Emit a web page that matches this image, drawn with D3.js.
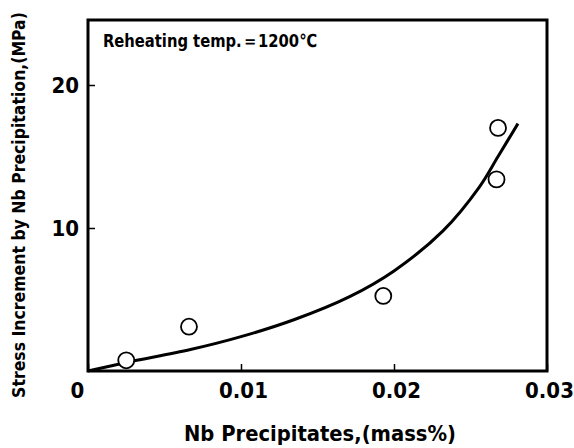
<!DOCTYPE html>
<style>
    body { margin: 0; background: #fff; }
    svg text { font-family: 'Liberation Sans Narrow', 'DejaVu Sans Condensed', 'Liberation Sans', sans-serif; font-weight: bold; fill: #000; }
    .axis .domain { display: none; }
</style>
<svg width="574" height="448"></svg>
<script src="https://d3js.org/d3.v7.min.js"></script>
<script>
    // measured points (open circles)
    var pointX = [0.0025, 0.0066, 0.0193, 0.0268, 0.0267];
    var pointY = [0.75, 3.1, 5.25, 17.0, 13.4];

    // fitted curve
    var curveX = [0, 0.0025, 0.0067, 0.010, 0.0135, 0.0171, 0.020, 0.0232, 0.0256, 0.0268, 0.0281];
    var curveY = [0, 0.6, 1.5, 2.4, 3.6, 5.2, 7.0, 9.8, 12.9, 15.0, 17.3];

    var xTicks = [0, 0.01, 0.02, 0.03];
    var xTickLabels = ["0", "0.01", "0.02", "0.03"];
    var yTicks = [10, 20];

    var svg = d3.select("svg");

    var x = d3.scaleLinear().domain([0, 0.03]).range([88, 547]);
    var y = d3.scaleLinear().domain([0, 20]).range([371, 85]);
    var frameTop = 20;

    // x axis (ticks point inward)
    var gx = svg.append("g")
        .attr("class", "axis")
        .attr("transform", "translate(0," + y(0) + ")")
        .call(d3.axisBottom(x)
            .tickValues(xTicks)
            .tickSize(-7)
            .tickPadding(11)
            .tickFormat(function(d, i) { return xTickLabels[i]; }));
    gx.selectAll(".tick line").attr("stroke", "#000").attr("stroke-width", 1.5);
    gx.selectAll(".tick text")
        .style("font-size", "22px")
        .attr("dx", function(d, i) { return i == 0 ? -11 : 2; });

    // y axis
    var gy = svg.append("g")
        .attr("class", "axis")
        .attr("transform", "translate(" + x(0) + ",0)")
        .call(d3.axisLeft(y)
            .tickValues(yTicks)
            .tickSize(-7)
            .tickPadding(9)
            .tickFormat(d3.format("d")));
    gy.selectAll(".tick line").attr("stroke", "#000").attr("stroke-width", 1.5);
    gy.selectAll(".tick text").style("font-size", "22px");

    // frame
    svg.append("rect")
        .attr("x", x(0))
        .attr("y", frameTop)
        .attr("width", x(0.03) - x(0))
        .attr("height", y(0) - frameTop)
        .attr("fill", "none")
        .attr("stroke", "#000")
        .attr("stroke-width", 3);

    // curve
    var line = d3.line()
        .x(function(d) { return x(d[0]); })
        .y(function(d) { return y(d[1]); })
        .curve(d3.curveCatmullRom);
    svg.append("path")
        .datum(d3.zip(curveX, curveY))
        .attr("d", line)
        .attr("fill", "none")
        .attr("stroke", "#000")
        .attr("stroke-width", 3);

    // points
    svg.append("g")
        .selectAll("circle")
        .data(d3.zip(pointX, pointY))
        .enter().append("circle")
        .attr("cx", function(d) { return x(d[0]); })
        .attr("cy", function(d) { return y(d[1]); })
        .attr("r", 8)
        .attr("fill", "#fff")
        .attr("stroke", "#000")
        .attr("stroke-width", 1.8);

    // annotation
    svg.append("text")
        .attr("x", 103)
        .attr("y", 47)
        .style("font-size", "18px")
        .attr("textLength", 214)
        .attr("lengthAdjust", "spacingAndGlyphs")
        .text("Reheating  temp.＝1200℃");

    // axis titles
    svg.append("text")
        .attr("x", 320)
        .attr("y", 441)
        .attr("text-anchor", "middle")
        .style("font-size", "22px")
        .attr("textLength", 272)
        .attr("lengthAdjust", "spacingAndGlyphs")
        .text("Nb Precipitates,(mass%)");

    // y title: pick a font size so it fits the height
    var yTitle = svg.append("text")
        .attr("transform", "translate(25,205) rotate(-90)")
        .attr("text-anchor", "middle")
        .style("font-size", "20px")
        .text("Stress Increment by Nb Precipitation,(MPa)");
    var len = yTitle.node().getComputedTextLength();
    yTitle.style("font-size", Math.min(20, 20 * 386 / len) + "px");
</script>
